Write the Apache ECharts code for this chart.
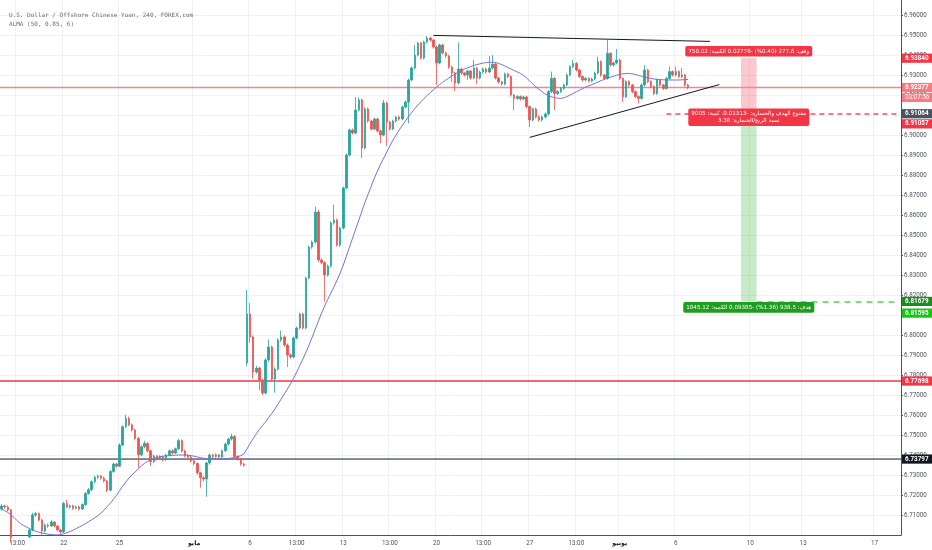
<!DOCTYPE html>
<html>
<head>
<meta charset="utf-8">
<script src="https://cdn.jsdelivr.net/npm/echarts@6/dist/echarts.min.js"></script>
<style>
  html, body { margin: 0; padding: 0; background: #fff; }
  #main { width: 932px; height: 550px; }
</style>
</head>
<body>
<div id="main"></div>
<script>
// 4h candles, [open, close, low, high]
var bars = [
  [6.7130, 6.7145, 6.7122, 6.7156], [6.7145, 6.7140, 6.7131, 6.7152], [6.7140, 6.7125, 6.7118, 6.7148],
  [6.7125, 6.6985, 6.6962, 6.7131], [6.6985, 6.6950, 6.6938, 6.6994], [6.6950, 6.6970, 6.6941, 6.6979],
  [6.6970, 6.6940, 6.6929, 6.6976], [6.6940, 6.6965, 6.6932, 6.6972], [6.6965, 6.6990, 6.6958, 6.6998],
  [6.6990, 6.7025, 6.6984, 6.7031], [6.7025, 6.7100, 6.7018, 6.7112], [6.7100, 6.7108, 6.7091, 6.7116],
  [6.7108, 6.7075, 6.7068, 6.7113], [6.7075, 6.7020, 6.6996, 6.7081], [6.7020, 6.7050, 6.7012, 6.7057],
  [6.7050, 6.7045, 6.7036, 6.7058], [6.7045, 6.7065, 6.7040, 6.7076], [6.7065, 6.7045, 6.7038, 6.7070],
  [6.7045, 6.7025, 6.7017, 6.7050], [6.7025, 6.7015, 6.7004, 6.7031], [6.7015, 6.7158, 6.7010, 6.7166],
  [6.7158, 6.7140, 6.7133, 6.7176], [6.7140, 6.7146, 6.7131, 6.7153], [6.7146, 6.7134, 6.7126, 6.7151],
  [6.7134, 6.7141, 6.7128, 6.7148], [6.7141, 6.7130, 6.7122, 6.7147], [6.7130, 6.7152, 6.7125, 6.7158],
  [6.7152, 6.7208, 6.7146, 6.7214], [6.7208, 6.7226, 6.7201, 6.7235], [6.7226, 6.7266, 6.7219, 6.7273],
  [6.7266, 6.7289, 6.7258, 6.7297], [6.7289, 6.7295, 6.7279, 6.7302], [6.7295, 6.7284, 6.7276, 6.7301],
  [6.7284, 6.7270, 6.7263, 6.7292], [6.7270, 6.7224, 6.7214, 6.7276], [6.7224, 6.7318, 6.7219, 6.7324],
  [6.7318, 6.7355, 6.7311, 6.7362], [6.7355, 6.7344, 6.7336, 6.7361], [6.7344, 6.7450, 6.7340, 6.7458],
  [6.7450, 6.7541, 6.7444, 6.7549], [6.7541, 6.7583, 6.7535, 6.7601], [6.7583, 6.7551, 6.7544, 6.7592],
  [6.7551, 6.7525, 6.7517, 6.7558], [6.7525, 6.7483, 6.7474, 6.7531], [6.7483, 6.7401, 6.7335, 6.7490],
  [6.7401, 6.7441, 6.7394, 6.7448], [6.7441, 6.7458, 6.7433, 6.7471], [6.7458, 6.7421, 6.7413, 6.7464],
  [6.7421, 6.7367, 6.7345, 6.7427], [6.7367, 6.7395, 6.7360, 6.7402], [6.7395, 6.7381, 6.7372, 6.7401],
  [6.7381, 6.7392, 6.7375, 6.7399], [6.7392, 6.7376, 6.7368, 6.7397], [6.7376, 6.7400, 6.7371, 6.7406],
  [6.7400, 6.7421, 6.7393, 6.7427], [6.7421, 6.7410, 6.7402, 6.7428], [6.7410, 6.7431, 6.7404, 6.7437],
  [6.7431, 6.7472, 6.7425, 6.7481], [6.7472, 6.7420, 6.7412, 6.7478], [6.7420, 6.7396, 6.7388, 6.7426],
  [6.7396, 6.7390, 6.7381, 6.7403], [6.7390, 6.7371, 6.7363, 6.7396], [6.7371, 6.7358, 6.7349, 6.7377],
  [6.7358, 6.7311, 6.7302, 6.7363], [6.7311, 6.7286, 6.7236, 6.7317], [6.7286, 6.7280, 6.7268, 6.7294],
  [6.7280, 6.7360, 6.7192, 6.7366], [6.7360, 6.7400, 6.7352, 6.7407], [6.7400, 6.7392, 6.7384, 6.7406],
  [6.7392, 6.7401, 6.7386, 6.7408], [6.7401, 6.7390, 6.7382, 6.7405], [6.7390, 6.7421, 6.7384, 6.7427],
  [6.7421, 6.7455, 6.7414, 6.7461], [6.7455, 6.7480, 6.7448, 6.7486], [6.7480, 6.7492, 6.7472, 6.7506],
  [6.7492, 6.7392, 6.7385, 6.7500], [6.7392, 6.7381, 6.7372, 6.7398], [6.7381, 6.7355, 6.7346, 6.7386],
  [6.7355, 6.7350, 6.7341, 6.7361], [6.7860, 6.8105, 6.7845, 6.8225], [6.8105, 6.7990, 6.7962, 6.8160],
  [6.7990, 6.7815, 6.7782, 6.7998], [6.7815, 6.7835, 6.7806, 6.7846], [6.7835, 6.7775, 6.7722, 6.7841],
  [6.7775, 6.7710, 6.7700, 6.7782], [6.7710, 6.7875, 6.7703, 6.7884], [6.7875, 6.7940, 6.7866, 6.7978],
  [6.7940, 6.7780, 6.7772, 6.7947], [6.7780, 6.7830, 6.7712, 6.7838], [6.7830, 6.7975, 6.7822, 6.7984],
  [6.7975, 6.7990, 6.7966, 6.8022], [6.7990, 6.7950, 6.7942, 6.7998], [6.7950, 6.7900, 6.7840, 6.7957],
  [6.7900, 6.7890, 6.7882, 6.7908], [6.7890, 6.7985, 6.7883, 6.7992], [6.7985, 6.8035, 6.7978, 6.8043],
  [6.8035, 6.8105, 6.8028, 6.8112], [6.8105, 6.8035, 6.8027, 6.8111], [6.8035, 6.8285, 6.8029, 6.8292],
  [6.8285, 6.8440, 6.8278, 6.8447], [6.8440, 6.8465, 6.8431, 6.8472], [6.8465, 6.8615, 6.8458, 6.8642],
  [6.8615, 6.8375, 6.8366, 6.8625], [6.8375, 6.8362, 6.8354, 6.8383], [6.8362, 6.8300, 6.8168, 6.8368],
  [6.8300, 6.8345, 6.8292, 6.8352], [6.8345, 6.8560, 6.8338, 6.8568], [6.8560, 6.8575, 6.8551, 6.8652],
  [6.8575, 6.8450, 6.8442, 6.8582], [6.8450, 6.8535, 6.8440, 6.8542], [6.8535, 6.8735, 6.8528, 6.8742],
  [6.8735, 6.8900, 6.8728, 6.8908], [6.8900, 6.9025, 6.8893, 6.9032], [6.9025, 6.9010, 6.9002, 6.9033],
  [6.9010, 6.9125, 6.9003, 6.9190], [6.9125, 6.9175, 6.9118, 6.9188], [6.9175, 6.8935, 6.8885, 6.9182],
  [6.8935, 6.9130, 6.8928, 6.9138], [6.9130, 6.9070, 6.9062, 6.9137], [6.9070, 6.9030, 6.9022, 6.9076],
  [6.9030, 6.9080, 6.9023, 6.9087], [6.9080, 6.9020, 6.9012, 6.9086], [6.9020, 6.9000, 6.8960, 6.9027],
  [6.9000, 6.9160, 6.8994, 6.9175], [6.9160, 6.9065, 6.8945, 6.9166], [6.9065, 6.9030, 6.9022, 6.9071],
  [6.9030, 6.9070, 6.9024, 6.9077], [6.9070, 6.9090, 6.9063, 6.9096], [6.9090, 6.9080, 6.9072, 6.9097],
  [6.9080, 6.9140, 6.9074, 6.9147], [6.9140, 6.9165, 6.9133, 6.9172], [6.9165, 6.9275, 6.9058, 6.9282],
  [6.9275, 6.9335, 6.9268, 6.9342], [6.9335, 6.9400, 6.9328, 6.9450], [6.9400, 6.9460, 6.9393, 6.9467],
  [6.9460, 6.9385, 6.9377, 6.9466], [6.9385, 6.9465, 6.9378, 6.9472], [6.9465, 6.9485, 6.9458, 6.9495],
  [6.9485, 6.9475, 6.9466, 6.9492], [6.9475, 6.9440, 6.9432, 6.9481], [6.9440, 6.9360, 6.9250, 6.9446],
  [6.9360, 6.9450, 6.9353, 6.9457], [6.9450, 6.9410, 6.9402, 6.9456], [6.9410, 6.9395, 6.9386, 6.9417],
  [6.9395, 6.9340, 6.9331, 6.9401], [6.9340, 6.9310, 6.9265, 6.9346], [6.9310, 6.9260, 6.9220, 6.9316],
  [6.9260, 6.9330, 6.9253, 6.9462], [6.9330, 6.9310, 6.9302, 6.9337], [6.9310, 6.9300, 6.9292, 6.9316],
  [6.9300, 6.9320, 6.9276, 6.9327], [6.9320, 6.9285, 6.9277, 6.9326], [6.9285, 6.9335, 6.9279, 6.9375],
  [6.9335, 6.9285, 6.9255, 6.9341], [6.9285, 6.9315, 6.9278, 6.9322], [6.9315, 6.9330, 6.9308, 6.9337],
  [6.9330, 6.9315, 6.9307, 6.9337], [6.9315, 6.9335, 6.9309, 6.9395], [6.9335, 6.9355, 6.9328, 6.9400],
  [6.9355, 6.9285, 6.9277, 6.9361], [6.9285, 6.9265, 6.9257, 6.9291], [6.9265, 6.9255, 6.9247, 6.9271],
  [6.9255, 6.9305, 6.9249, 6.9312], [6.9305, 6.9292, 6.9285, 6.9311], [6.9292, 6.9200, 6.9192, 6.9298],
  [6.9200, 6.9183, 6.9125, 6.9206], [6.9183, 6.9192, 6.9176, 6.9199], [6.9192, 6.9180, 6.9172, 6.9198],
  [6.9180, 6.9190, 6.9173, 6.9196], [6.9190, 6.9142, 6.9134, 6.9196], [6.9142, 6.9075, 6.9040, 6.9148],
  [6.9075, 6.9130, 6.9068, 6.9137], [6.9130, 6.9090, 6.9082, 6.9136], [6.9090, 6.9075, 6.9067, 6.9097],
  [6.9075, 6.9090, 6.9068, 6.9097], [6.9090, 6.9105, 6.9083, 6.9112], [6.9105, 6.9217, 6.9098, 6.9224],
  [6.9217, 6.9283, 6.9210, 6.9317], [6.9283, 6.9208, 6.9125, 6.9290], [6.9208, 6.9217, 6.9200, 6.9224],
  [6.9217, 6.9233, 6.9210, 6.9240], [6.9233, 6.9250, 6.9226, 6.9257], [6.9250, 6.9300, 6.9243, 6.9307],
  [6.9300, 6.9342, 6.9293, 6.9349], [6.9342, 6.9358, 6.9335, 6.9375], [6.9358, 6.9325, 6.9318, 6.9364],
  [6.9325, 6.9292, 6.9285, 6.9331], [6.9292, 6.9275, 6.9267, 6.9298], [6.9275, 6.9283, 6.9268, 6.9290],
  [6.9283, 6.9270, 6.9262, 6.9289], [6.9270, 6.9280, 6.9264, 6.9287], [6.9280, 6.9310, 6.9273, 6.9317],
  [6.9310, 6.9367, 6.9303, 6.9392], [6.9367, 6.9300, 6.9292, 6.9373], [6.9300, 6.9283, 6.9275, 6.9306],
  [6.9283, 6.9408, 6.9276, 6.9475], [6.9408, 6.9350, 6.9342, 6.9414], [6.9350, 6.9360, 6.9343, 6.9367],
  [6.9360, 6.9375, 6.9353, 6.9430], [6.9375, 6.9283, 6.9275, 6.9381], [6.9283, 6.9192, 6.9165, 6.9289],
  [6.9192, 6.9267, 6.9185, 6.9274], [6.9267, 6.9250, 6.9242, 6.9273], [6.9250, 6.9217, 6.9209, 6.9256],
  [6.9217, 6.9192, 6.9184, 6.9223], [6.9192, 6.9183, 6.9158, 6.9198], [6.9183, 6.9250, 6.9176, 6.9257],
  [6.9250, 6.9325, 6.9243, 6.9350], [6.9325, 6.9267, 6.9259, 6.9331], [6.9267, 6.9242, 6.9234, 6.9273],
  [6.9242, 6.9208, 6.9200, 6.9248], [6.9208, 6.9275, 6.9201, 6.9282], [6.9275, 6.9250, 6.9242, 6.9281],
  [6.9250, 6.9233, 6.9225, 6.9256], [6.9233, 6.9283, 6.9226, 6.9290], [6.9283, 6.9317, 6.9276, 6.9342],
  [6.9317, 6.9300, 6.9292, 6.9323], [6.9300, 6.9317, 6.9293, 6.9342], [6.9317, 6.9292, 6.9284, 6.9323],
  [6.9292, 6.9300, 6.9285, 6.9335], [6.9300, 6.9250, 6.9242, 6.9306], [6.9250, 6.92377, 6.9228, 6.9256]
];

// ALMA (50, 0.85, 6), one value per candle
var alma = [
  6.7130, 6.7122, 6.7113, 6.7100, 6.7088, 6.7072, 6.7058, 6.7048, 6.7040, 6.7032,
  6.7025, 6.7019, 6.7014, 6.7010, 6.7007, 6.7004, 6.7002, 6.7001, 6.7000, 6.7002,
  6.7006, 6.7011, 6.7017, 6.7024, 6.7032, 6.7040, 6.7048, 6.7057, 6.7066, 6.7076,
  6.7086, 6.7097, 6.7110, 6.7125, 6.7142, 6.7158, 6.7178, 6.7198, 6.7222, 6.7244,
  6.7265, 6.7285, 6.7300, 6.7316, 6.7330, 6.7345, 6.7358, 6.7368, 6.7376, 6.7382,
  6.7387, 6.7391, 6.7394, 6.7396, 6.7397, 6.7398, 6.7399, 6.7400, 6.7400, 6.7400,
  6.7399, 6.7397, 6.7394, 6.7390, 6.7387, 6.7384, 6.7381, 6.7380, 6.7380, 6.7380,
  6.7380, 6.7381, 6.7382, 6.7383, 6.7385, 6.7388, 6.7392, 6.7397, 6.7405, 6.7430,
  6.7458, 6.7482, 6.7506, 6.7528, 6.7548, 6.7566, 6.7588, 6.7608, 6.7630, 6.7655,
  6.7680, 6.7705, 6.7730, 6.7755, 6.7785, 6.7815, 6.7848, 6.7880, 6.7915, 6.7950,
  6.7990, 6.8030, 6.8070, 6.8110, 6.8145, 6.8178, 6.8210, 6.8240, 6.8275, 6.8310,
  6.8350, 6.8395, 6.8440, 6.8485, 6.8530, 6.8575, 6.8620, 6.8665, 6.8705, 6.8745,
  6.8785, 6.8820, 6.8855, 6.8885, 6.8915, 6.8945, 6.8975, 6.9000, 6.9025, 6.9048,
  6.9070, 6.9092, 6.9112, 6.9132, 6.9150, 6.9167, 6.9183, 6.9198, 6.9212, 6.9226,
  6.9240, 6.9252, 6.9264, 6.9275, 6.9286, 6.9296, 6.9305, 6.9315, 6.9323, 6.9330,
  6.9336, 6.9342, 6.9348, 6.9352, 6.9356, 6.9360, 6.9362, 6.9364, 6.9364, 6.9362,
  6.9358, 6.9352, 6.9345, 6.9337, 6.9330, 6.9322, 6.9315, 6.9308, 6.9298, 6.9285,
  6.9270, 6.9255, 6.9240, 6.9228, 6.9216, 6.9205, 6.9197, 6.9191, 6.9187, 6.9184,
  6.9183, 6.9186, 6.9192, 6.9200, 6.9208, 6.9216, 6.9224, 6.9232, 6.9240, 6.9246,
  6.9252, 6.9258, 6.9265, 6.9272, 6.9278, 6.9284, 6.9289, 6.9294, 6.9299, 6.9303,
  6.9306, 6.9308, 6.9308, 6.9306, 6.9302, 6.9298, 6.9294, 6.9290, 6.9286, 6.9283,
  6.9280, 6.9278, 6.9277, 6.9276, 6.9275, 6.9275, 6.9275, 6.9275, 6.9275, 6.9276,
  6.9277, 6.9278
];

// time scale: candle slots incl. the empty future area
var slotCount = 290;
var xTickIdx  = [5, 20, 38, 62, 80, 95, 110, 125, 140, 155, 170, 185, 199, 217, 241, 258, 281];
var xTickText = ['13:00', '22', '25', '{m|مايو}', '6', '13:00', '13', '13:00', '20', '13:00', '27', '13:00', '{m|يونيو}', '6', '10', '13', '17'];

// horizontal levels and drawings
var lastPrice = 6.92377;
var resistLevel = 6.77698;
var supportLevel = 6.73797;
var levelValues = [lastPrice, resistLevel, supportLevel];
var levelColors = ['#f4868e', '#f23645', '#131722'];
var levelWidths = [1.5, 1.5, 1];
var triangleTop = [[139, 6.9498], [228, 6.9468]];
var triangleBottom = [[170, 6.8988], [231, 6.9252]];

// short position tool
var posEntry = 6.91064;
var posStop = 6.93840;
var posTarget = 6.81679;
var posFrom = 238, posTo = 243;
var stopText = 'وقف: 277.6 (0.40%) -0.02776 الكمية: 750.02';
var openText = 'مفتوح الهدف والخسارة: -0.01313، كمية: 9005';
var ratioText = 'نسبة الربح/الخسارة: 3.38';
var targetText = 'هدف: 938.5 (1.36%) -0.09385 الكمية: 1845.12';

// price tags on the right scale
var tagValues = [6.93840, 6.92377, 6.91064, 6.91057, 6.81679, 6.81595, 6.77698, 6.73797];
var tagColors = ['#f23645', '#f77c80', '#4c525e', '#f23645', '#1f8a24', '#12c712', '#f23645', '#131722'];
var tagShift  = [0, 0, 0, 10, 0, 10, 0, 0];
var countdown = '03:07:56';

var cats = [];
for (var i = 0; i < slotCount; i++) cats.push(String(i));

function isTick(index) { return xTickIdx.indexOf(index) >= 0; }

var rtl = function (s) { return '\u202B' + s + '\u202C'; };

var myChart = echarts.init(document.getElementById('main'));

var option = {
  animation: false,
  backgroundColor: '#ffffff',
  title: [
    {
      text: 'U.S. Dollar / Offshore Chinese Yuan, 240, FOREX.com',
      left: 4, top: 7,
      textStyle: { fontSize: 6, fontWeight: 'normal', fontFamily: 'DejaVu Sans Mono', color: '#6a6d78' }
    },
    {
      text: 'ALMA (50, 0.85, 6)',
      left: 4, top: 16.5,
      textStyle: { fontSize: 6, fontWeight: 'normal', fontFamily: 'DejaVu Sans Mono', color: '#6a6d78' }
    }
  ],
  grid: { left: 0, right: 31, top: -5, bottom: 15, containLabel: false, outerBoundsMode: 'none' },
  xAxis: {
    type: 'category',
    data: cats,
    boundaryGap: true,
    axisLine: { lineStyle: { color: '#50535e', width: 1 } },
    axisTick: { show: false },
    axisLabel: {
      interval: function (index) { return isTick(index); },
      formatter: function (value, index) {
        var k = xTickIdx.indexOf(index);
        return k >= 0 ? xTickText[k] : '';
      },
      fontSize: 6.3,
      fontFamily: 'Roboto',
      color: '#50535e',
      margin: 5,
      rich: { m: { fontSize: 6.3, fontWeight: 'bold', color: '#131722', fontFamily: 'DejaVu Sans' } }
    },
    splitLine: {
      show: true,
      interval: function (index) { return isTick(index); },
      lineStyle: { color: '#eef1f7', width: 1 }
    }
  },
  yAxis: {
    type: 'value',
    position: 'right',
    min: 6.70,
    max: 6.97,
    interval: 0.01,
    axisLine: { show: true, lineStyle: { color: '#50535e', width: 1 } },
    axisTick: { show: true, length: 2, lineStyle: { color: '#50535e' } },
    axisLabel: {
      showMinLabel: false,
      showMaxLabel: false,
      formatter: function (v) { return v.toFixed(5); },
      fontSize: 6.3,
      fontFamily: 'Roboto',
      color: '#50535e',
      margin: 3
    },
    splitLine: { show: true, lineStyle: { color: '#eef1f7', width: 1 } }
  },
  series: [
    {
      name: 'USDCNH',
      type: 'candlestick',
      data: bars,
      barWidth: 2,
      clip: true,
      z: 2,
      itemStyle: {
        color: '#26a69a',
        color0: '#ef5350',
        borderColor: '#26a69a',
        borderColor0: '#ef5350',
        borderWidth: 0.8
      },
      markArea: {
        silent: true,
        data: [
          [{ coord: [posFrom, posStop], itemStyle: { color: 'rgba(242,54,69,0.27)' } }, { coord: [posTo, posEntry] }],
          [{ coord: [posFrom, posEntry], itemStyle: { color: 'rgba(20,170,20,0.24)' } }, { coord: [posTo, posTarget] }]
        ]
      },
      markLine: {
        silent: true,
        precision: 6,
        symbol: ['none', 'none'],
        label: { show: false },
        emphasis: { disabled: true },
        data: [
          [{ coord: triangleTop[0], lineStyle: { color: '#131722', width: 1, type: 'solid' } }, { coord: triangleTop[1] }],
          [{ coord: triangleBottom[0], lineStyle: { color: '#131722', width: 1, type: 'solid' } }, { coord: triangleBottom[1] }],
          [{ coord: [214, posEntry], lineStyle: { color: '#e0576a', width: 1.5, type: [5, 4] } }, { coord: [slotCount - 1, posEntry] }],
          [{ coord: [posTo, posTarget], lineStyle: { color: '#4cd94c', width: 1.5, type: [6, 5] } }, { coord: [slotCount - 1, posTarget] }]
        ]
      }
    },
    {
      name: 'ALMA',
      type: 'line',
      data: alma,
      showSymbol: false,
      symbol: 'none',
      smooth: false,
      clip: true,
      lineStyle: { color: '#7474d8', width: 1 },
      z: 3
    }
  ]
};

myChart.setOption(option);

// level lines and labels placed through the axis scale (after the grid exists)
var gridRight = myChart.getWidth() - 31;
var graphics = [];

levelValues.forEach(function (v, k) {
  var y = myChart.convertToPixel({ yAxisIndex: 0 }, v);
  graphics.push({
    type: 'line', z: 1, silent: true,
    shape: { x1: 0, y1: y, x2: gridRight, y2: y },
    style: { stroke: levelColors[k], lineWidth: levelWidths[k] }
  });
});

tagValues.forEach(function (v, k) {
  var y = myChart.convertToPixel({ yAxisIndex: 0 }, v) + tagShift[k];
  graphics.push({
    type: 'text', z: 100,
    style: {
      text: v.toFixed(5), x: gridRight + 1, y: y,
      fill: '#ffffff', fontSize: 6.3, fontFamily: 'Roboto', fontWeight: 'bold',
      align: 'left', verticalAlign: 'middle',
      backgroundColor: tagColors[k], padding: [1.6, 5, 1.6, 3]
    }
  });
});

graphics.push({
  type: 'text', z: 100,
  style: {
    text: countdown, x: gridRight + 1, y: myChart.convertToPixel({ yAxisIndex: 0 }, lastPrice) + 10,
    fill: '#ffffff', fontSize: 6.3, fontFamily: 'Roboto',
    align: 'left', verticalAlign: 'middle',
    backgroundColor: '#f77c80', padding: [1.6, 3, 1.6, 3]
  }
});

var leftPx = myChart.convertToPixel({ seriesIndex: 0 }, [posFrom, posEntry]);
var rightPx = myChart.convertToPixel({ seriesIndex: 0 }, [posTo, posEntry]);
var midX = (leftPx[0] + rightPx[0]) / 2;
var yStop = myChart.convertToPixel({ yAxisIndex: 0 }, posStop);
var yEntry = myChart.convertToPixel({ yAxisIndex: 0 }, posEntry);
var yTarget = myChart.convertToPixel({ yAxisIndex: 0 }, posTarget);

function boxLabel(text, y, bg) {
  return {
    type: 'text', z: 90,
    style: {
      text: text, x: midX, y: y,
      fill: '#ffffff', fontSize: 5.6, fontFamily: 'DejaVu Sans', lineHeight: 7,
      align: 'center', verticalAlign: 'middle',
      backgroundColor: bg, padding: [1.8, 3], borderRadius: 2
    }
  };
}

graphics.push(boxLabel(rtl(stopText), yStop - 7, '#f23645'));
graphics.push(boxLabel(rtl(openText) + '\n' + rtl(ratioText), yEntry + 3.5, '#f23645'));
graphics.push(boxLabel(rtl(targetText), yTarget + 6, '#1e9e1e'));

myChart.setOption({ graphic: graphics });
</script>
</body>
</html>
